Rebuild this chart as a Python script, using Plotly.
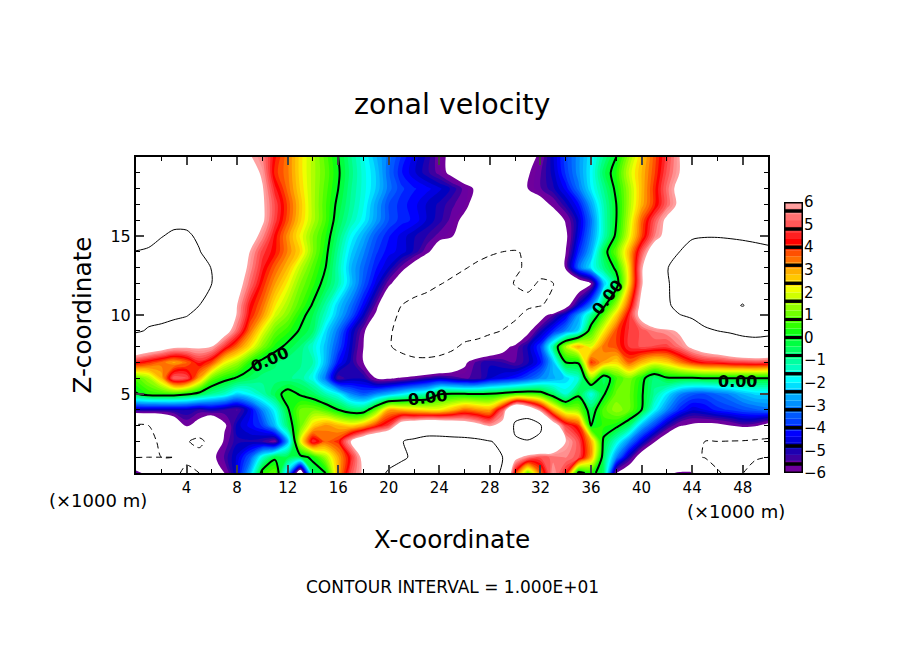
import plotly.graph_objects as go

# field, 1 km columns
x_km = list(range(0, 51))
z_km = [0, 1, 2, 3, 4, 5, 6, 7, 8, 9, 10, 10.6, 12, 13, 14, 15, 16, 17, 18, 19, 20]

u_00 = [-5.2, -7, -8, -9.5, -10.5, -10, -8, -6, -4.5, -2.5, 0.4, 1, -2.5, -7.5, -0.5, 0, 3, 5, 6.2, 8.5, 10.5, 10.8, 11, 11.5, 12, 12.5, 13, 12, 10.6, 9.8, 4, 1, 3.5, 5.8, 4.5, -0.3, 0.3, -0.5, -6, -7, -7.5, -7, -6.3, -5.8, -5.8, -7.5, -9.8, -10.5, -10.1, -8, -5.9]
u_01 = [-10.1, -10, -10, -10, -9.5, -8.5, -6.3, -5.4, -4.6, -3.5, -1.5, -0.2, -0.3, -0.3, 0.2, 1.5, 3, 4.5, 6.5, 7.5, 8.5, 9.7, 10.3, 10.5, 11, 11, 11.5, 11, 10.6, 10, 6.5, 5.5, 5, 5.3, 5.5, 5, 3, -0.5, -3, -5, -6.8, -7.5, -8, -9, -9.6, -10.1, -10.6, -11, -11, -10.5, -10]
u_02 = [-11, -10.5, -9.7, -9, -9.7, -11, -8.5, -5.7, -5, -5, -5.2, -5.7, -2.6, 2, 4.7, 3.6, 4, 6, 7.5, 8.2, 8.8, 9.9, 10.5, 11, 11, 11, 11, 10.7, 10.1, 9.5, 9.7, 9.8, 9.6, 8, 6, 5, 3, -0.2, -1.5, -3, -4.5, -5.9, -7, -8, -9.8, -10, -10, -10.1, -10.2, -10.5, -10.8]
u_03 = [-10.4, -10, -9.4, -7.5, -5.8, -6.6, -8, -6.2, -4.8, -4.3, -3.8, -2.4, -0.6, 1, 2.5, 3.2, 2.8, 2.5, 3, 4, 4.8, 7, 7.5, 8, 8, 7.5, 7, 6.5, 5.8, 6.5, 10.5, 12, 10.3, 7, 4.8, 4, -0.05, 0.5, 0.2, -0.6, -2.5, -3.7, -5, -5.9, -6.2, -6.3, -6.3, -6, -5.6, -5.8, -6.5]
u_04 = [-4.9, -4.9, -4.9, -4.9, -4.9, -5.2, -4.9, -5.2, -5.5, -4.5, -3, -1.8, -0.1, 1, 1.1, 0.7, 0, -0.6, -0.6, 1, 3, 2.8, 2.5, 2.3, 2.2, 2.8, 3.5, 3.2, 3, 5, 8.5, 7.5, 5.5, 3, 1.5, 1.2, -0.5, 0.8, 1.4, 1, 0, -1.8, -3, -4, -4.6, -4.4, -4, -3.8, -3.6, -3.4, -3.2]
u_05 = [-0.1, 0.4, 0.5, 0.5, 0.2, -0.3, -1, -1.4, -2.2, -1.8, -1.2, -0.4, 0.4, -0.1, -0.5, -1.2, -1.8, -3, -3.5, -3, -2.5, -2, -1.5, -1.2, -0.05, 0.1, 0.05, 0, 0.1, 0.3, 0.6, 0.7, 0.5, -0.5, -1.5, -0.2, -1.7, -0.1, 1, 1, 0.1, -1, -2, -3, -3.5, -3.6, -3.3, -3, -2.5, -2.2, -2.2]
u_06 = [0.8, 1.5, 2.8, 5.2, 5, 3, 1, 0.3, -0.1, -0.5, -0.8, -0.8, -0.9, -1, -1.7, -3.2, -5.4, -5, -5, -6, -6.1, -5.9, -5.6, -5.2, -4.9, -5.2, -5.5, -5.4, -4.7, -4.4, -4.1, -3.6, -3, -2.6, -2.2, -1.5, 1.3, -0.6, 0.6, 1.2, 0.3, -0.8, -0.1, -0.1, -0.1, 0, 0, 0, 0, 0, 0]
u_07 = [4.5, 4, 3.5, 3, 3.5, 4.5, 3.8, 2.2, 1.5, 0.4, -0.3, -0.6, -0.9, -0.9, -1.2, -2.5, -4.2, -5, -6, -7, -8, -8.5, -9, -9, -8.5, -7.3, -6.2, -5.3, -5, -5.2, -5.5, -5, -4.2, -2.4, 0, 0.1, 4, 3, 2.5, 3.6, 2.8, 2.2, 2.5, 3.3, 4, 4.4, 4.5, 4.7, 4.8, 4.9, 4.8]
u_08 = [7.8, 7.2, 6.8, 6.3, 6.2, 6.2, 6, 4.7, 3.5, 2.4, 1.2, 0.3, -0.2, -0.7, -1.5, -2.4, -3.6, -4.8, -6, -8, -9.7, -11, -12, -12.3, -12, -11, -9, -8.2, -7.4, -6.5, -5.7, -4.9, -3.8, -1, 1.7, 3, 2, 3.5, 3.8, 4.7, 5, 4.9, 4.8, 5.4, 6.3, 7, 7.5, 8.2, 8.8, 9, 8.8]
u_09 = [10.3, 9.8, 9.6, 9.3, 9, 8.7, 8.3, 6.7, 5.2, 3.5, 2.1, 1, 0.5, -0.1, -0.6, -2.1, -3.2, -4.6, -5.7, -8, -9.6, -11, -12, -12.5, -12.5, -12.5, -12.5, -12, -10.8, -9.9, -8.5, -6.3, -5, -4, -3, -2.2, 0.6, 2.2, 3.8, 4.7, 5, 5.5, 5.7, 6.2, 8, 9.3, 10, 10.3, 10.6, 10.7, 10.6]
u_10 = [10.7, 10.6, 10.5, 10.3, 10.1, 9.5, 8.8, 7.5, 5.9, 4.2, 3.2, 1.9, 1.2, 0.3, -0.4, -1.4, -2.5, -3.5, -4.8, -6.2, -9, -10.5, -11.3, -11.7, -12, -12, -12, -12, -12, -11.5, -10.8, -9, -6.6, -5.5, -4.5, -2.8, -1, 0.8, 2.5, 4.5, 6.6, 8, 9.3, 9.9, 10.6, 12, 13, 13.5, 13, 12.5, 12]
u_11 = [10.8, 10.9, 11, 10.9, 10.6, 10, 9, 7.6, 6, 4.4, 3.5, 2.3, 1.5, 0.7, -0.1, -1.1, -2.3, -3.2, -4.3, -5.6, -8, -10, -10.8, -11, -11.2, -11.4, -11.5, -11.5, -11.5, -11.2, -10.8, -10.6, -10.2, -9, -6.5, -4.7, -3, -0.2, 1.5, 3.8, 6.5, 8.2, 9.5, 11, 12, 13, 14, 17, 20.6, 15, 13]
u_12 = [11.5, 11.8, 12, 12, 12, 11, 10, 8.2, 6.6, 5.3, 4.1, 3.1, 2.2, 1.2, 0.5, -0.3, -1.2, -2.4, -3.5, -4.5, -5.7, -7, -8.6, -9.3, -9.9, -10.3, -10.7, -11, -11, -10.6, -9.9, -9.6, -10.2, -10.05, -8, -7, -6, -2.4, -0.5, 2.5, 5.8, 8.3, 9.8, 10.8, 11.5, 12, 12, 12, 12, 11.8, 11.5]
u_13 = [11, 11.2, 11.5, 11.7, 11.8, 11, 9.9, 8.4, 7, 5.7, 4.5, 3.6, 2.8, 1.7, 0.8, 0, -1.2, -2.5, -3.3, -4.1, -4.7, -5.6, -6.6, -8, -9, -9.5, -9.9, -10.3, -10.6, -10.6, -10.2, -9.8, -9.5, -8, -5.8, -3.3, -2, -0.8, 0.2, 2.5, 5.8, 8, 9.9, 10.8, 11.2, 11.5, 11.5, 11.5, 11.5, 11.3, 11.2]
u_14 = [10.1, 10.3, 10.8, 11, 11, 10.1, 9.2, 8.2, 7.2, 6, 4.8, 4.2, 3.3, 2.5, 1.2, 0.2, -1, -2.2, -3, -3.8, -4.3, -4.5, -5, -5.7, -7, -8, -9, -9.5, -9.8, -10, -10.1, -9.8, -9, -7.5, -6, -4, -2.6, -0.4, 1, 2.8, 5, 7, 8.5, 10, 10.7, 11, 11, 11, 10.8, 10.7, 10.5]
u_15 = [8.5, 9.2, 9.9, 10.4, 10.3, 9.7, 9, 8.2, 7.5, 6.7, 5.6, 4.3, 3.2, 2.2, 1.2, 0.4, -0.7, -1.8, -2.6, -3.5, -4.1, -4.5, -4.9, -5.2, -5.6, -5.9, -7, -7.8, -8.5, -8.8, -9, -8.6, -8, -7, -6.2, -4.5, -3, -1.3, 0.2, 2, 3.8, 5.4, 6.5, 8, 9.8, 9.9, 9.9, 9.8, 9.7, 9.5, 9.3]
u_16 = [8.5, 8.5, 9, 9.4, 9.5, 9, 8.5, 8, 7.5, 6.8, 6.2, 4.8, 3.7, 2.6, 1.6, 0.7, -0.4, -1.2, -1.9, -2.8, -3.6, -4, -4.2, -4.7, -5.1, -5.6, -6.3, -7, -8, -8, -8, -7.8, -7.5, -6.8, -5.9, -4.7, -3.2, -1.3, 0, 1.7, 3.6, 5, 6.3, 7.2, 8, 8.2, 8.3, 8.4, 8.4, 8.3, 8.3]
u_17 = [8, 8, 8, 8, 8, 8, 8, 8, 7.5, 6.9, 6.2, 4.9, 3.8, 2.7, 1.6, 0.7, -0.2, -1, -1.7, -2.7, -3.6, -4, -4.3, -4.7, -5, -5.4, -5.7, -6.6, -7.5, -7.5, -7.5, -7, -6.5, -5.8, -5, -4.2, -2.7, -1.2, 0, 1.5, 2.9, 4, 5.2, 6.3, 7.5, 8, 8, 8, 8, 8, 8]
u_18 = [8, 8, 8, 8, 8, 8, 8, 8, 7.5, 7, 6.1, 4.5, 3.5, 2.5, 1.6, 0.8, 0, -0.9, -1.6, -2.3, -3.2, -3.8, -4.1, -4.3, -4.6, -5, -5.6, -6.2, -7, -7, -6.8, -6, -5.5, -5, -4.3, -3.2, -2, -0.9, 0.2, 1.5, 2.8, 4, 5.3, 6.5, 7.5, 8, 8, 8, 8, 8, 8]
u_19 = [8, 8, 8, 8, 8, 8, 8, 8, 7.5, 6.7, 5.8, 4, 3.4, 2.4, 1.6, 0.9, 0.1, -0.8, -1.6, -2.3, -3.3, -4.1, -4.6, -5.1, -5.6, -6.3, -7, -7.3, -7.5, -7.1, -6.7, -6.1, -5.5, -4.8, -3.8, -2.9, -1.9, -0.5, 0.4, 1.8, 2.8, 3.8, 5, 6, 7, 8, 8, 8, 8, 8, 8]
u_20 = [8, 8, 8, 8, 8, 8, 8, 8, 7.5, 6.1, 5.5, 4.2, 3.4, 2.4, 1.6, 0.8, 0, -0.9, -1.7, -2.5, -3.2, -3.9, -4.5, -5, -5.7, -6.3, -7, -7.5, -8, -7.5, -7, -6.4, -5.8, -4.7, -3.7, -2.9, -2, -0.9, 0, 1.4, 2.6, 3.7, 4.8, 6, 6.8, 8, 8, 8, 8, 8, 8]

u_grid = [u_00, u_01, u_02, u_03, u_04, u_05, u_06, u_07, u_08, u_09, u_10, u_11, u_12,
          u_13, u_14, u_15, u_16, u_17, u_18, u_19, u_20]

# 45 shades from -6 to 6, white outside that range
band_colors = [
    "#70009c", "#6a00a0", "#3c00a0", "#1e00b0", "#0000c0", "#0000e0", "#0000ff", "#0020ff", "#0040ff",
    "#0058ff", "#0070ff", "#0090ff", "#00a8ff", "#00c0ff", "#00e0ff", "#00ffff", "#00ffe0", "#00ffc0",
    "#00ffa0", "#00ff80", "#00ff60", "#00ff40", "#00ff30", "#10ff10", "#30ff00", "#50ff00", "#70ff00",
    "#90ff00", "#b0ff00", "#d0ff00", "#f0ff00", "#ffe000", "#ffc800", "#ffb000", "#ff9000", "#ff7000",
    "#ff5000", "#ff2800", "#ff0000", "#ff2020", "#ff4040", "#ff5858", "#ff7070", "#ff9090", "#ffa0a0",
]
bar_ticks = [-6, -5, -4, -3, -2, -1, 0, 1, 2, 3, 4, 5, 6]
box_edges = [-6, -5.6, -4.8, -4, -3.2, -2.4, -1.6, -0.8, 0, 0.8, 1.6, 2.4, 3.2, 4, 4.8, 5.6, 6]

# zero-line labels: x, z, angle
label_x = [10.6, 23.1, 37.3, 47.6]
label_z = [7.2, 4.8, 11.1, 5.8]
label_angle = [-24, -7, -52, 0]

FONT = "DejaVu Sans"
band = 12 / len(band_colors)
stops = ["#ffffff"] + band_colors + ["#ffffff"]
colorscale = [[i / (len(stops) - 1), c] for i, c in enumerate(stops)]

fig = go.Figure()

fig.add_trace(go.Contour(
    x=x_km, y=z_km, z=u_grid, autocontour=False, showscale=False, colorscale=colorscale,
    contours=dict(start=-6, end=6, size=band, coloring="fill", showlines=False),
    line=dict(width=0, smoothing=1), hoverinfo="skip",
))
# thin solid +10 (and the tiny +20 loop), dashed -10, thick zero line
fig.add_trace(go.Contour(
    x=x_km, y=z_km, z=u_grid, autocontour=False, showscale=False,
    contours=dict(start=10, end=20, size=10, coloring="none"),
    line=dict(color="black", width=1, smoothing=0.8), hoverinfo="skip",
))
fig.add_trace(go.Contour(
    x=x_km, y=z_km, z=u_grid, autocontour=False, showscale=False,
    contours=dict(start=-10, end=-10, size=10, coloring="none"),
    line=dict(color="black", width=1, dash="6px,4px", smoothing=0.8), hoverinfo="skip",
))
fig.add_trace(go.Contour(
    x=x_km, y=z_km, z=u_grid, autocontour=False, showscale=False,
    contours=dict(start=0, end=0, size=10, coloring="none"),
    line=dict(color="black", width=2, smoothing=0.8), hoverinfo="skip",
))

# colour bar on its own small axes
edges = [-6 + i * band for i in range(len(band_colors))]
fig.add_trace(go.Bar(x=[0] * len(band_colors), y=[band] * len(band_colors), base=edges, width=1,
                     marker=dict(color=band_colors, line=dict(width=0)),
                     xaxis="x2", yaxis="y2", hoverinfo="skip", showlegend=False))
fig.add_trace(go.Bar(x=[0] * (len(box_edges) - 1),
                     y=[b - a for a, b in zip(box_edges[:-1], box_edges[1:])],
                     base=box_edges[:-1], width=1,
                     marker=dict(color="rgba(0,0,0,0)", line=dict(color="black", width=3)),
                     xaxis="x2", yaxis="y2", hoverinfo="skip", showlegend=False))

notes = [
    dict(text="zonal velocity", x=316 / 718, y=(473 - 104) / 316, font=dict(size=28.5), xanchor="center"),
    dict(text="(×1000 m)", x=-89 / 718, y=-(500 - 473) / 316, font=dict(size=18), xanchor="left"),
    dict(text="(×1000 m)", x=549 / 718, y=-(511 - 473) / 316, font=dict(size=18), xanchor="left"),
    dict(text="CONTOUR INTERVAL = 1.000E+01", x=316 / 718, y=-(587 - 473) / 316, font=dict(size=17),
         xanchor="center"),
]
for n in notes:
    n.update(xref="paper", yref="paper", showarrow=False, yanchor="middle")
for lx, lz, la in zip(label_x, label_z, label_angle):
    notes.append(dict(text="<b>0.00</b>", x=lx, y=lz, xref="x", yref="y", textangle=la, showarrow=False,
                      font=dict(size=16)))

fig.update_layout(
    width=896, height=646, margin=dict(l=128, r=50, t=149, b=181),
    paper_bgcolor="white", plot_bgcolor="white", barmode="overlay", showlegend=False,
    font=dict(family=FONT, color="black", size=16),
    xaxis=dict(domain=[0, 632 / 718], range=[0, 50], tickvals=list(range(4, 50, 4)), ticks="inside",
               ticklen=8, tickwidth=2, linewidth=2, linecolor="black", mirror="ticks", showgrid=False,
               zeroline=False, tickfont=dict(size=15),
               minor=dict(dtick=2, tick0=0, ticks="inside", ticklen=4, tickwidth=1, tickcolor="black"),
               title=dict(text="X-coordinate", font=dict(size=24.7), standoff=35)),
    yaxis=dict(domain=[0, 1], range=[0, 20], tickvals=[5, 10, 15], ticks="inside", ticklen=8, tickwidth=2,
               linewidth=2, linecolor="black", mirror="ticks", showgrid=False, zeroline=False,
               tickfont=dict(size=16),
               minor=dict(dtick=1, tick0=0, ticks="inside", ticklen=4, tickwidth=1, tickcolor="black"),
               title=dict(text="Z-coordinate", font=dict(size=24.7), standoff=12)),
    xaxis2=dict(domain=[648 / 718, 667 / 718], range=[-0.5, 0.5], anchor="y2", showticklabels=False,
                ticks="", showgrid=False, zeroline=False),
    yaxis2=dict(domain=[0, 271 / 316], range=[-6, 6], anchor="x2", side="right", tickvals=bar_ticks,
                ticks="", showgrid=False, zeroline=False, tickfont=dict(size=15)),
    annotations=notes,
)

fig.write_html("out.html")
